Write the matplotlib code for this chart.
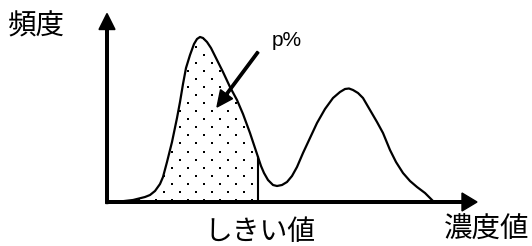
import numpy as np
import matplotlib
matplotlib.use("Agg")
import matplotlib.pyplot as plt
from matplotlib.patches import Polygon

# Distribution curve (concentration vs frequency, arbitrary units)
conc = [0, 13, 26, 38, 43, 48, 53, 56, 60, 65, 70, 73, 76, 79, 83, 87, 90, 93, 96,
        100, 104, 108, 112, 116, 123, 130, 136, 143, 148, 151, 154, 157, 161, 166,
        170, 175, 180, 185, 190, 196, 203, 210, 218, 226, 233, 238, 242, 246, 251,
        256, 263, 270, 276, 283, 289, 296, 303, 310, 318, 325, 327]
freq = [0, 0.5, 2, 5, 7, 11, 18, 25, 40, 60, 84, 100, 118, 134, 147, 158, 163, 165, 164,
        160, 154, 146, 138, 130, 115, 102, 88, 69, 54, 45, 36, 29, 22, 17,
        16, 17, 20, 26, 35, 49, 64, 79, 93, 104, 110, 113, 113.5, 112, 109,
        104, 92, 80, 69, 52, 40, 29, 21, 15, 9, 2, 0]
threshold = 151

label_y = "頻度"
label_x = "濃度値"
label_th = "しきい値"
label_p = "p%"

fig = plt.figure(figsize=(5.32, 2.46), dpi=100)
ax = fig.add_axes([0, 0, 1, 1])
ax.set_xlim(-107, 425)
ax.set_ylim(-44, 202)
ax.axis("off")

conc_a = np.array(conc, dtype=float)
freq_a = np.array(freq, dtype=float)

# shaded region under curve up to threshold
mask = conc_a <= threshold
poly_xy = np.column_stack([np.r_[conc_a[mask], threshold], np.r_[freq_a[mask], 0]])
region = Polygon(poly_xy, closed=True, facecolor="white", edgecolor="none", zorder=1)
ax.add_patch(region)

# dotted texture (staggered grid) clipped to region
sp = 8.05
ki, mi = np.meshgrid(np.arange(-20, 30), np.arange(-20, 20))
gx = ki * sp + 129
gy = mi * sp + 82.7
sel = ((ki + mi) % 2 == 0)
dots = ax.scatter(gx[sel], gy[sel], s=1.7, marker="s", color="black", linewidths=0, zorder=2)
dots.set_clip_path(region)

# threshold line
ax.plot([threshold, threshold], [0, np.interp(threshold, conc_a, freq_a)], color="black", lw=1.5, zorder=3)

# curve
ax.plot(conc_a, freq_a, color="black", lw=1.6, zorder=3, solid_joinstyle="round")

# axes arrows
ax.arrow(-1, 0, 371, 0, width=2.6, head_width=18, head_length=15,
         length_includes_head=True, color="black", zorder=4)
ax.arrow(0, -1.5, 0, 190, width=2.6, head_width=16, head_length=16,
         length_includes_head=True, color="black", zorder=4)

# pointer arrow to shaded region
ax.arrow(151, 150, -41, -55, width=2.4, head_width=15, head_length=16,
         length_includes_head=True, color="black", zorder=4)

cjk = ["Noto Sans CJK JP", "DejaVu Sans"]
ax.text(-71, 176, label_y, fontsize=20.5, family=cjk, ha="center", va="center")
ax.text(380, -28, label_x, fontsize=20.5, family=cjk, ha="center", va="center")
ax.text(152.5, -30, label_th, fontsize=20, family=cjk, ha="center", va="center")
ax.text(165, 156, label_p, fontsize=15, family=["Liberation Sans", "DejaVu Sans"],
        ha="left", va="baseline")

fig.savefig("out.png", dpi=100)
